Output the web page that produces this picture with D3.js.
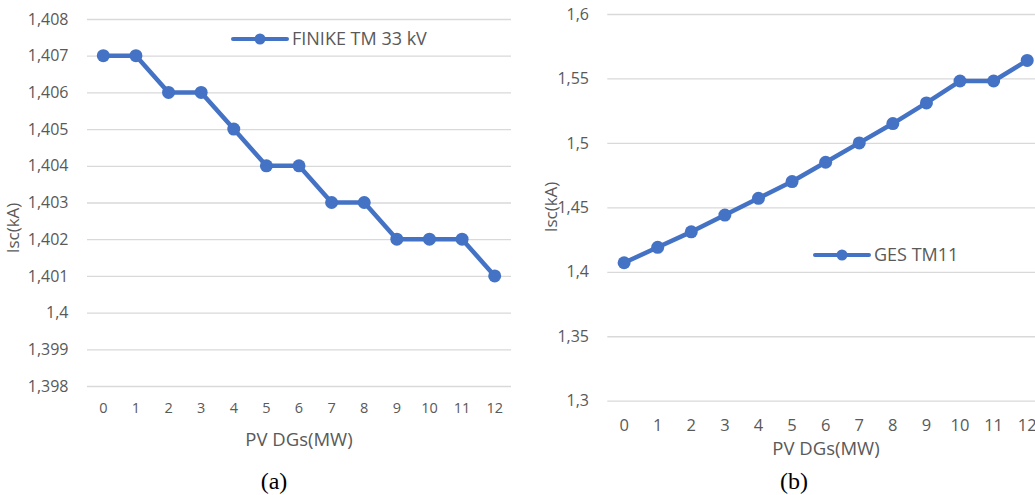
<!DOCTYPE html>
<html>
<head>
<meta charset="utf-8">
<script src="https://cdn.jsdelivr.net/npm/d3@7"></script>
<style>
  html, body { margin: 0; padding: 0; background: #fff; }
  svg { display: block; }
  text { font-family: "Open Sans", "Noto Sans", sans-serif; fill: #595959; }
</style>
</head>
<body>
<svg id="chart" width="1035" height="495"></svg>
<script>
// PV DG capacity steps (MW), shared by both panels
const pvSteps = [0, 1, 2, 3, 4, 5, 6, 7, 8, 9, 10, 11, 12];

// Panel (a): short-circuit current at FINIKE TM 33 kV bus (kA)
const finikeSeries = "FINIKE TM 33 kV";
const finikeIsc = [1.407, 1.407, 1.406, 1.406, 1.405, 1.404, 1.404, 1.403, 1.403, 1.402, 1.402, 1.402, 1.401];
const finikeTicks = [1.398, 1.399, 1.400, 1.401, 1.402, 1.403, 1.404, 1.405, 1.406, 1.407, 1.408];

// Panel (b): short-circuit current at GES TM11 bus (kA)
const gesSeries = "GES TM11";
const gesIsc = [1.407, 1.419, 1.431, 1.444, 1.457, 1.470, 1.485, 1.500, 1.515, 1.531, 1.548, 1.548, 1.564];
const gesTicks = [1.30, 1.35, 1.40, 1.45, 1.50, 1.55, 1.60];

const xTitle = "PV DGs(MW)";
const yTitle = "Isc(kA)";

const svg = d3.select("#chart");
const blue = "#4472C4";
const grid = "#d9d9d9";

// comma decimal separator
const fmt = v => String(+v.toFixed(3)).replace(".", ",");

function panel(cfg) {
  const g = svg.append("g");
  const x = d3.scaleBand().domain(pvSteps).range(cfg.xRange);
  const y = d3.scaleLinear().domain(cfg.yDomain).range(cfg.yRange);
  const cx = d => x(d) + x.bandwidth() / 2;

  // horizontal gridlines and value labels
  const yAxis = d3.axisLeft(y).tickValues(cfg.ticks).tickFormat(fmt)
    .tickSize(-(cfg.xRange[1] - cfg.xRange[0])).tickPadding(cfg.yPad);
  const ya = g.append("g").attr("transform", `translate(${cfg.xRange[0]},0)`).call(yAxis);
  ya.select(".domain").remove();
  ya.selectAll(".tick line").attr("stroke", grid).attr("stroke-width", 1.3);
  ya.selectAll(".tick text").attr("fill", "#595959")
    .style("font-family", '"Open Sans", sans-serif').style("font-size", cfg.yFont + "px");

  // category labels
  const xAxis = d3.axisBottom(x).tickSize(0).tickPadding(0);
  const xa = g.append("g").attr("transform", `translate(0,${cfg.xLabelY})`).call(xAxis);
  xa.select(".domain").remove();
  xa.selectAll(".tick text").attr("fill", "#595959").attr("dy", "0.35em")
    .style("font-family", '"Open Sans", sans-serif').style("font-size", cfg.xFont + "px");

  // series line and markers
  const line = d3.line().x((d, i) => cx(pvSteps[i])).y(d => y(d));
  g.append("path").datum(cfg.values).attr("d", line)
    .attr("fill", "none").attr("stroke", blue).attr("stroke-width", 4.5)
    .attr("stroke-linejoin", "round");
  g.selectAll("circle.pt").data(cfg.values).join("circle").attr("class", "pt")
    .attr("cx", (d, i) => cx(pvSteps[i])).attr("cy", d => y(d)).attr("r", 6.5)
    .attr("fill", blue);

  // legend
  const lg = g.append("g").attr("transform", `translate(${cfg.legend[0]},${cfg.legend[1]})`);
  lg.append("line").attr("x1", 0).attr("x2", 54).attr("y1", 0).attr("y2", 0)
    .attr("stroke", blue).attr("stroke-width", 4).attr("stroke-linecap", "round");
  lg.append("circle").attr("cx", 27).attr("cy", 0).attr("r", 5.5).attr("fill", blue);
  lg.append("text").attr("x", 59).attr("y", 0).attr("dy", "0.35em")
    .style("font-size", "18px").text(cfg.series);

  // axis titles
  g.append("text").attr("x", cfg.xTitle[0]).attr("y", cfg.xTitle[1])
    .attr("text-anchor", "middle").style("font-size", "18.5px").text(xTitle);
  g.append("text").attr("transform", `translate(${cfg.yTitle[0]},${cfg.yTitle[1]}) rotate(-90)`)
    .attr("text-anchor", "middle").attr("dy", "0.35em").style("font-size", "17px").text(yTitle);

  // panel caption
  g.append("text").attr("x", cfg.caption[0]).attr("y", cfg.caption[1])
    .attr("text-anchor", "middle")
    .style("font-family", '"Liberation Serif", "Times New Roman", serif')
    .style("font-size", "24px").style("fill", "#000").text(cfg.label);
}

panel({
  values: finikeIsc, ticks: finikeTicks, series: finikeSeries, label: "(a)",
  xRange: [87, 511], yDomain: [1.398, 1.408], yRange: [386, 19],
  yPad: 18.5, yFont: 16, xFont: 14.5, xLabelY: 407.5,
  legend: [233, 39], xTitle: [299, 446], yTitle: [13, 228], caption: [274, 489]
});

panel({
  values: gesIsc, ticks: gesTicks, series: gesSeries, label: "(b)",
  xRange: [607.3, 1044], yDomain: [1.30, 1.60], yRange: [400.7, 14],
  yPad: 18.3, yFont: 16, xFont: 16.5, xLabelY: 425,
  legend: [815, 255], xTitle: [826, 455], yTitle: [551, 207], caption: [794, 489]
});
</script>
</body>
</html>
